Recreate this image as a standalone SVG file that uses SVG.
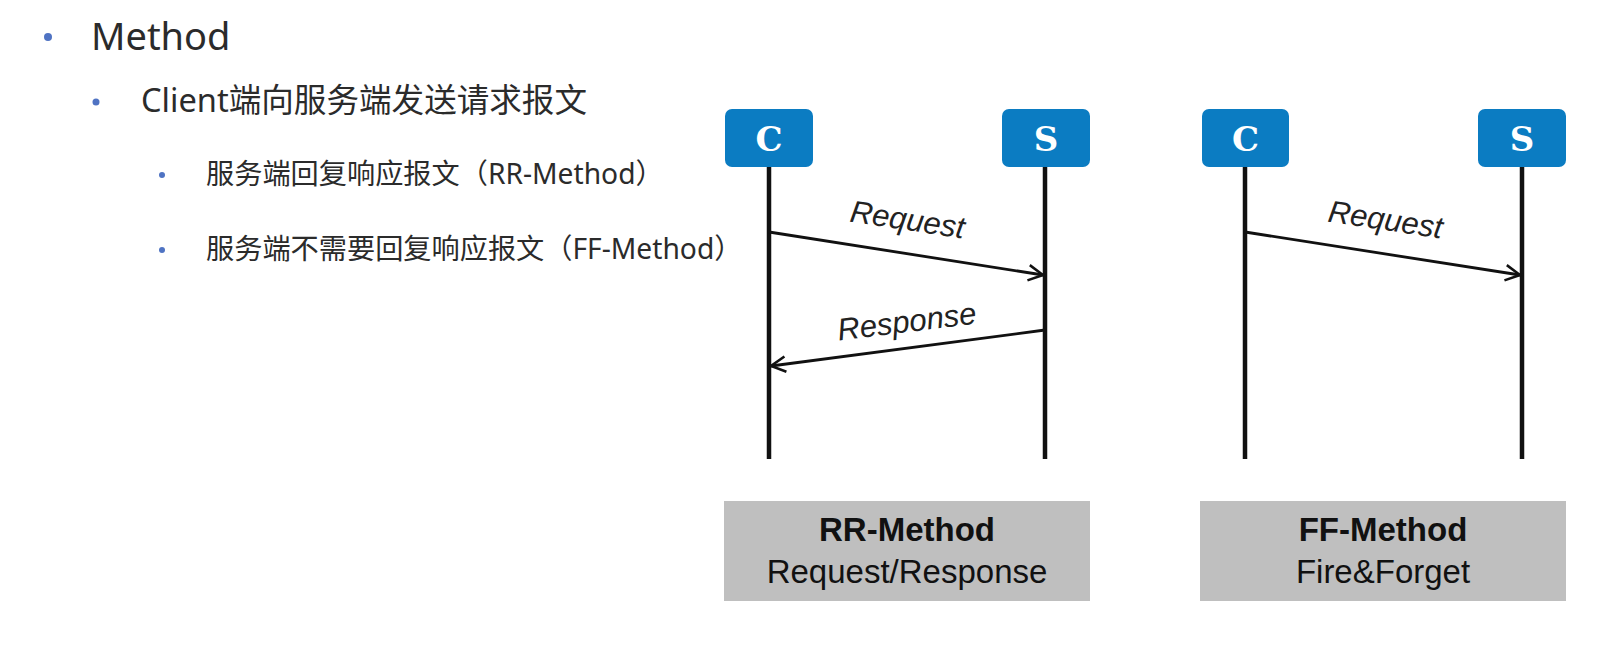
<svg xmlns="http://www.w3.org/2000/svg" width="1598" height="654" viewBox="0 0 1598 654">
<style>
.txt{font-family:"Noto Sans","Noto Sans CJK SC",sans-serif;fill:#2b2b2b}
.bul{fill:#4f73c3}
.actor{fill:#0b7cc2}
.alab{font-family:"DejaVu Serif",serif;font-weight:bold;font-size:34px;fill:#fff;text-anchor:middle}
.life{stroke:#111;stroke-width:4.5;fill:none}
.msg{stroke:#111;stroke-width:2.8;fill:none;marker-end:url(#arr)}
.mlab{font-family:"Liberation Sans",Arial,sans-serif;font-style:italic;font-size:31px;fill:#222;text-anchor:middle}
.cap{fill:#bfbfbf}
.capt{font-family:"Liberation Sans",Arial,sans-serif;font-size:33px;fill:#111;text-anchor:middle}
</style>
<defs>
<marker id="arr" markerWidth="20" markerHeight="20" viewBox="-20 -10 22 20" refX="0" refY="0" orient="auto" markerUnits="userSpaceOnUse">
<path d="M-16,-8.5 L0,0 L-16,8.5" fill="none" stroke="#111" stroke-width="2.8"/>
</marker>
</defs>
<rect width="1598" height="654" fill="#fff"/>
<g id="bullets-text">
<circle class="bul" cx="48" cy="37" r="4"/>
<text class="txt" x="91" y="50" font-size="38">Method</text>
<circle class="bul" cx="96" cy="102" r="3.5"/>
<text class="txt" x="141" y="112" font-size="32.6">Client端向服务端发送请求报文</text>
<circle class="bul" cx="162" cy="175" r="3"/>
<text class="txt" x="206" y="184" font-size="28.2">服务端回复响应报文（RR-Method）</text>
<circle class="bul" cx="162" cy="250" r="3"/>
<text class="txt" x="206" y="259" font-size="28.2">服务端不需要回复响应报文（FF-Method）</text>
</g>
<g id="rr-client">
<rect class="actor" x="725" y="109" width="88" height="58" rx="7"/>
<text class="alab" x="769" y="151">C</text>
</g>
<g id="rr-server">
<rect class="actor" x="1002" y="109" width="88" height="58" rx="7"/>
<text class="alab" x="1046" y="151">S</text>
</g>
<g id="ff-client">
<rect class="actor" x="1202" y="109" width="87" height="58" rx="7"/>
<text class="alab" x="1245.5" y="151">C</text>
</g>
<g id="ff-server">
<rect class="actor" x="1478" y="109" width="88" height="58" rx="7"/>
<text class="alab" x="1522" y="151">S</text>
</g>
<g id="lifelines">
<line class="life" x1="769" y1="167" x2="769" y2="459"/>
<line class="life" x1="1045" y1="167" x2="1045" y2="459"/>
<line class="life" x1="1245" y1="167" x2="1245" y2="459"/>
<line class="life" x1="1522" y1="167" x2="1522" y2="459"/>
</g>
<g id="connectors">
<line class="msg" x1="769" y1="232" x2="1043" y2="275"/>
<line class="msg" x1="1045" y1="330" x2="771" y2="366"/>
<line class="msg" x1="1245" y1="232" x2="1520" y2="275"/>
<text class="mlab" transform="translate(906,230) rotate(8.5)">Request</text>
<text class="mlab" transform="translate(908,332) rotate(-7)">Response</text>
<text class="mlab" transform="translate(1384,230) rotate(8.5)">Request</text>
</g>
<g id="rr-caption">
<rect class="cap" x="724" y="501" width="366" height="100"/>
<text class="capt" x="907" y="541" font-weight="bold" font-size="32">RR-Method</text>
<text class="capt" x="907" y="583">Request/Response</text>
</g>
<g id="ff-caption">
<rect class="cap" x="1200" y="501" width="366" height="100"/>
<text class="capt" x="1383" y="541" font-weight="bold" font-size="32">FF-Method</text>
<text class="capt" x="1383" y="583">Fire&amp;Forget</text>
</g>
</svg>
